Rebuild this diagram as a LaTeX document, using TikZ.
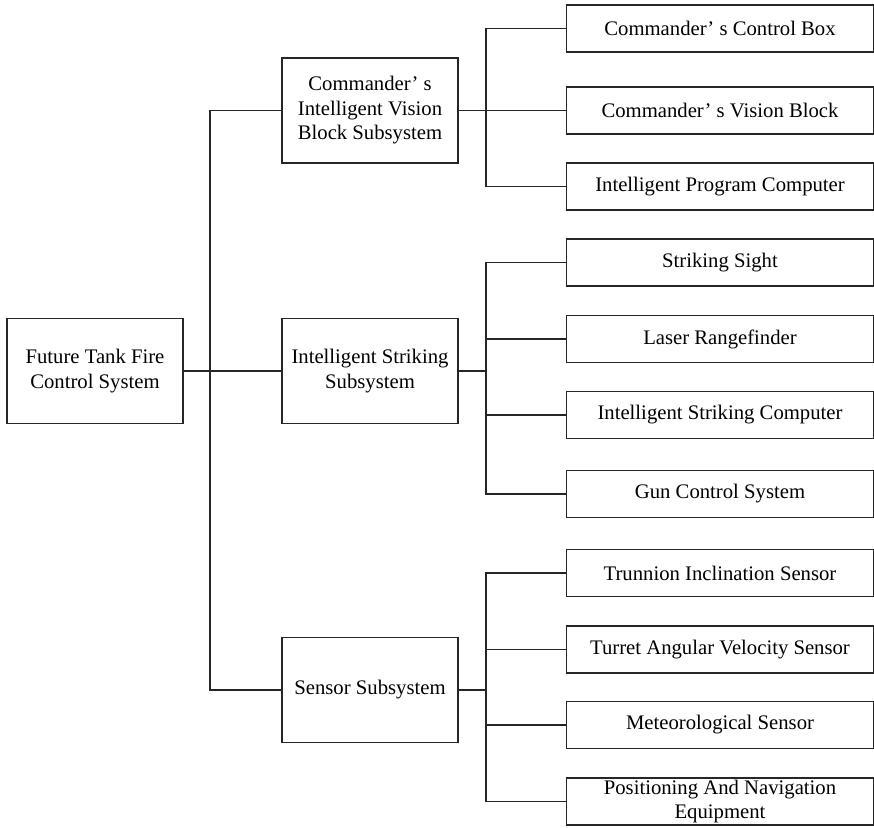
\documentclass[tikz,border=0pt]{standalone}
\usepackage{fontspec}
\setmainfont{Liberation Serif}
\tikzset{
  blk/.style={draw=black!85, line width=1.2pt, rectangle, inner sep=0pt,
    align=center, font=\fontsize{20.7}{24.5}\selectfont},
  subblk/.style={blk, minimum width=176pt, minimum height=105pt},
  leaf/.style={blk, minimum width=307pt, minimum height=47pt},
  wire/.style={draw=black!85, line width=1.2pt}
}
\begin{document}
\begin{tikzpicture}[x=1pt,y=-1pt]
      \useasboundingbox (0,0) rectangle (874,827);
      \draw
        (95,371) node[subblk] (root){Future Tank Fire\\Control System}
        (370,110.5) node[subblk] (cmd){Commander’ s\\Intelligent Vision\\Block Subsystem}
        (370,371) node[subblk] (strike){Intelligent Striking\\Subsystem}
        (370,690) node[subblk] (sensor){Sensor Subsystem}
        (720,28.5) node[leaf] (box){Commander’ s Control Box}
        (720,110.5) node[leaf] (vision){Commander’ s Vision Block}
        (720,186.5) node[leaf] (prog){Intelligent Program Computer}
        (720,262.5) node[leaf] (sight){Striking Sight}
        (720,339) node[leaf] (laser){Laser Rangefinder}
        (720,415) node[leaf] (scomp){Intelligent Striking Computer}
        (720,494) node[leaf] (gun){Gun Control System}
        (720,573) node[leaf] (trun){Trunnion Inclination Sensor}
        (720,649.5) node[leaf] (turret){Turret Angular Velocity Sensor}
        (720,725) node[leaf] (meteo){Meteorological Sensor}
        (720,801.5) node[leaf] (pos){Positioning And Navigation\\Equipment};
      % junction points on the vertical trunks
      \coordinate (j0) at (210,371);
      \coordinate (j1) at (486,110.5);
      \coordinate (j2) at (486,371);
      \coordinate (j3) at (486,690);
      \begin{scope}[wire]
        \draw (root) to (strike);
        \draw (cmd.west) -| (j0) |- (sensor.west);
        \draw (cmd) to (vision);
        \draw (box.west) -| (j1) |- (prog.west);
        \draw (strike.east) to (j2);
        \draw (sight.west) -| (j2) |- (gun.west);
        \draw (laser.west) -| (j2);
        \draw (scomp.west) -| (j2);
        \draw (sensor.east) to (j3);
        \draw (trun.west) -| (j3) |- (pos.west);
        \draw (turret.west) -| (j3);
        \draw (meteo.west) -| (j3);
      \end{scope}
    \end{tikzpicture}
\end{document}
